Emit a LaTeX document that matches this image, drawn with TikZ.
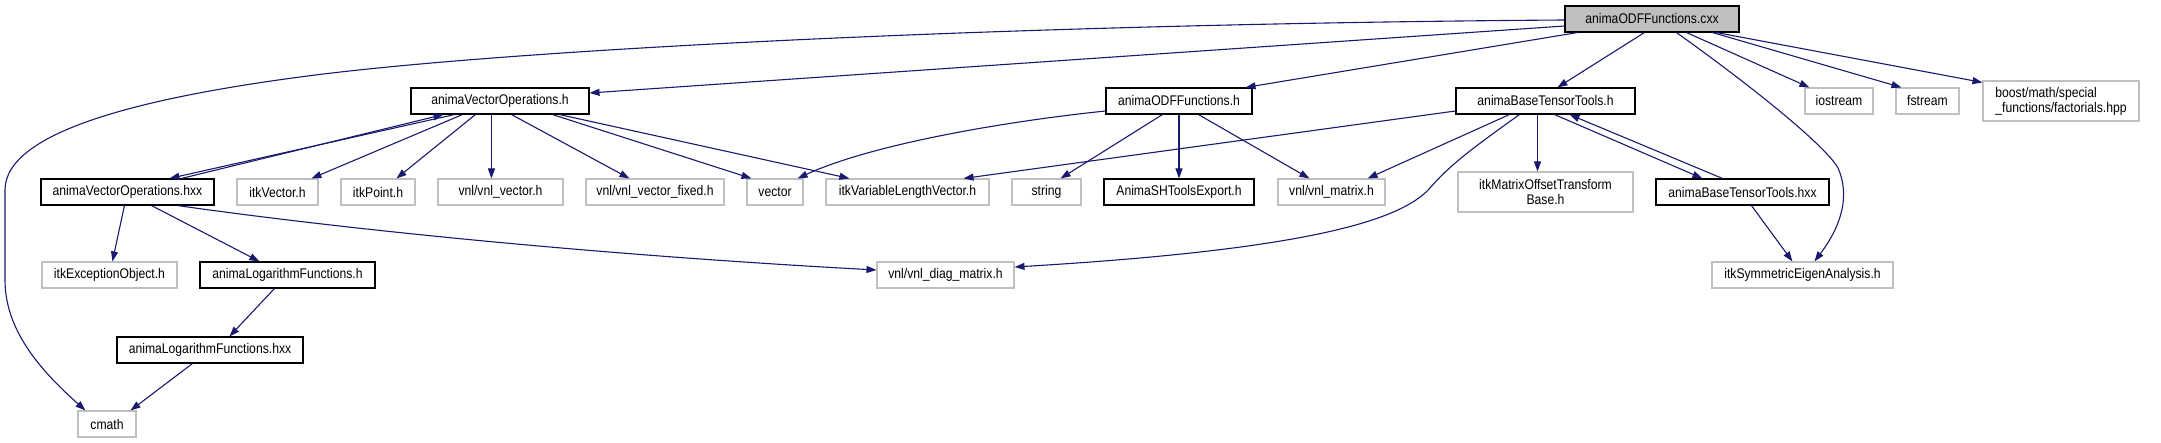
\documentclass[tikz,border=0pt]{standalone}
\usepackage{fontspec}
\setmainfont[FakeStretch=0.87]{Liberation Sans}
\usetikzlibrary{arrows.meta}
\definecolor{edgec}{RGB}{25,25,112}
\definecolor{graybd}{RGB}{191,191,191}
\definecolor{grayfill}{RGB}{191,191,191}
\begin{document}
\begin{tikzpicture}[x=1pt,y=-1pt,
  box/.style={draw=black, line width=1.1pt, inner sep=0pt, minimum height=26pt,
    font=\fontsize{14}{15}\selectfont, align=center},
  ext/.style={box, draw=graybd},
  e/.style={draw=edgec, line width=1.1pt, -{Triangle[length=10pt,width=7pt]}}]
\useasboundingbox (0,0) rectangle (2161,443);
% row 1
\node[box, fill=grayfill, minimum width=174pt] (cxx) at (1652,19) {animaODFFunctions.cxx};
% row 2
\node[box, minimum width=178pt] (vopsh) at (500,101) {animaVectorOperations.h};
\node[box, minimum width=146pt] (odfh) at (1179,101) {animaODFFunctions.h};
\node[box, minimum width=179pt] (btth) at (1545.5,101) {animaBaseTensorTools.h};
\node[ext, minimum width=68pt] (iostream) at (1839,101) {iostream};
\node[ext, minimum width=63pt] (fstream) at (1927.5,101) {fstream};
\node[ext, minimum width=156pt, minimum height=40pt, align=left] (boost) at (2061,101) {boost/math/special\\\_functions/factorials.hpp};
% row 3
\node[box, minimum width=173pt] (vopshxx) at (127.5,192) {animaVectorOperations.hxx};
\node[ext, minimum width=81pt] (itkvector) at (277.5,192) {itkVector.h};
\node[ext, minimum width=74pt] (itkpoint) at (378,192) {itkPoint.h};
\node[ext, minimum width=125pt] (vnlvector) at (500.5,192) {vnl/vnl\_vector.h};
\node[ext, minimum width=138pt] (vnlfixed) at (655,192) {vnl/vnl\_vector\_fixed.h};
\node[ext, minimum width=56pt] (vector) at (775,192) {vector};
\node[ext, minimum width=163pt] (itkvlv) at (907.5,192) {itkVariableLengthVector.h};
\node[ext, minimum width=69pt] (string) at (1046.5,192) {string};
\node[box, minimum width=150pt] (shexport) at (1179,192) {AnimaSHToolsExport.h};
\node[ext, minimum width=107pt] (vnlmatrix) at (1331.5,192) {vnl/vnl\_matrix.h};
\node[ext, minimum width=175pt, minimum height=40pt] (itkmotb) at (1545.5,192) {itkMatrixOffsetTransform\\Base.h};
\node[box, minimum width=173pt] (btthxx) at (1742.5,192) {animaBaseTensorTools.hxx};
% row 4
\node[ext, minimum width=135pt] (itkexc) at (109.5,275) {itkExceptionObject.h};
\node[box, minimum width=175pt] (logh) at (287.5,275) {animaLogarithmFunctions.h};
\node[ext, minimum width=137pt] (diag) at (945.5,275) {vnl/vnl\_diag\_matrix.h};
\node[ext, minimum width=181pt] (itksea) at (1802.5,275) {itkSymmetricEigenAnalysis.h};
% row 5
\node[box, minimum width=186pt] (loghxx) at (210,350) {animaLogarithmFunctions.hxx};
% row 6
\node[ext, minimum width=58pt] (cmath) at (107,424) {cmath};

% edges from cxx
\draw[e] ([yshift=-1pt]cxx.west) .. controls (1000,24) and (500,50) .. (300,77)
  .. controls (150,97) and (5,130) .. (5,190) -- (5,280)
  .. controls (5,330) and (40,370) .. ([xshift=8pt]cmath.north west);
\draw[e] ([yshift=-7pt]cxx.west) -- ([yshift=8pt]vopsh.east);
\draw[e] ([xshift=13pt]cxx.south west) -- ([xshift=-7pt]odfh.north east);
\draw[e] ([xshift=80pt]cxx.south west) -- ([xshift=102pt]btth.north west);
\draw[e] ([xshift=112pt]cxx.south west) .. controls (1750,85) and (1825,145) .. (1838,168)
  .. controls (1850,195) and (1842,225) .. ([xshift=103pt]itksea.north west);
\draw[e] ([xshift=122pt]cxx.south west) -- ([xshift=5pt]iostream.north west);
\draw[e] ([xshift=148pt]cxx.south west) -- ([xshift=6pt]fstream.north west);
\draw[e] ([xshift=152pt]cxx.south west) -- ([yshift=-2pt]boost.north west);

% edges from animaVectorOperations.h
\draw[e] ([xshift=44pt]vopsh.south west) -- ([xshift=129pt]vopshxx.north west);
\draw[e] ([xshift=141pt]vopshxx.north west) -- ([xshift=33pt]vopsh.south west);
\draw[e] ([xshift=52pt]vopsh.south west) -- ([xshift=75pt]itkvector.north west);
\draw[e] ([xshift=65pt]vopsh.south west) -- ([xshift=56pt]itkpoint.north west);
\draw[e] ([xshift=81pt]vopsh.south west) -- ([xshift=54pt]vnlvector.north west);
\draw[e] ([xshift=101pt]vopsh.south west) -- ([xshift=44pt]vnlfixed.north west);
\draw[e] ([xshift=142pt]vopsh.south west) -- ([xshift=5pt]vector.north west);
\draw[e] ([xshift=149pt]vopsh.south west) -- ([xshift=24pt]itkvlv.north west);

% edges from animaODFFunctions.h
\draw[e] ([yshift=-10pt]odfh.west) .. controls (1000,122) and (870,145) .. ([xshift=-6pt]vector.north east);
\draw[e] ([xshift=57pt]odfh.south west) -- ([xshift=-21pt]string.north east);
\draw[e] (odfh.south) -- (shexport.north);
\draw[e] ([xshift=93pt]odfh.south west) -- ([xshift=32pt]vnlmatrix.north west);

% edges from animaBaseTensorTools.h
\draw[e] ([yshift=-10pt]btth.west) -- ([xshift=-26pt]itkvlv.north east);
\draw[e] ([xshift=54pt]btth.south west) -- ([xshift=-18pt]vnlmatrix.north east);
\draw[e] ([xshift=64pt]btth.south west) .. controls (1470,150) and (1450,165) .. (1430,188)
  .. controls (1400,222) and (1300,250) .. ([yshift=8pt]diag.east);
\draw[e] ([xshift=-8pt]btth.south) -- ([xshift=-8pt]itkmotb.north);
\draw[e] ([xshift=99pt]btth.south west) -- ([xshift=47pt]btthxx.north west);
\draw[e] ([xshift=67pt]btthxx.north west) -- ([xshift=114pt]btth.south west);

% edges from animaVectorOperations.hxx
\draw[e] ([xshift=84pt]vopshxx.south west) -- ([xshift=71pt]itkexc.north west);
\draw[e] ([xshift=111pt]vopshxx.south west) -- ([xshift=60pt]logh.north west);
\draw[e] ([xshift=137pt]vopshxx.south west) .. controls (350,230) and (600,255) .. ([yshift=5pt]diag.west);

% remaining
\draw[e] ([xshift=75pt]logh.south west) -- ([xshift=113pt]loghxx.north west);
\draw[e] ([xshift=76pt]loghxx.south west) -- ([xshift=-6pt]cmath.north east);
\draw[e] ([xshift=96pt]btthxx.south west) -- ([xshift=81pt]itksea.north west);
\end{tikzpicture}
\end{document}
